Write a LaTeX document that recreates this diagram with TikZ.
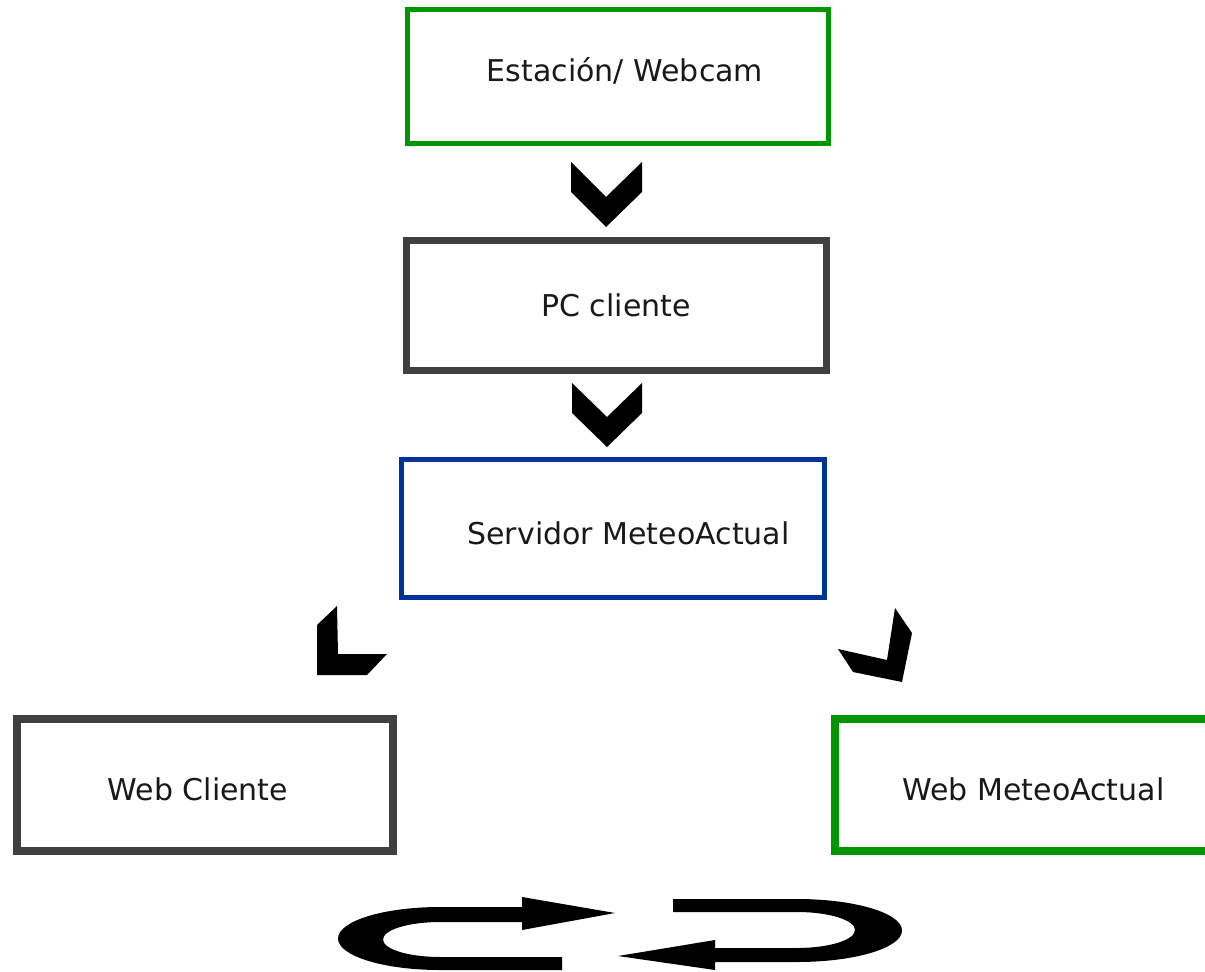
\documentclass[tikz,border=0pt]{standalone}
\usepackage{fontspec}
\setmainfont{DejaVu Sans}
\definecolor{boxgreen}{RGB}{0,150,0}
\definecolor{boxgray}{RGB}{64,64,64}
\definecolor{boxblue}{RGB}{0,51,153}
\begin{document}
\begin{tikzpicture}[x=1pt,y=-1pt,
  box/.style={draw, rectangle, inner sep=0pt, fill=white},
  lbl/.style={anchor=base, inner sep=0pt, font=\fontsize{30}{36}\selectfont, text=black!90},
  chev/.style={fill=black, draw=none}]
\useasboundingbox (0,0) rectangle (1205,972);
\fill[white] (0,0) rectangle (1205,972);

% boxes
\node[box, draw=boxgreen, line width=5pt, minimum width=420.5pt, minimum height=133.5pt] (est) at (617.75,76.25) {};
\node[box, draw=boxgray, line width=7pt, minimum width=420pt, minimum height=130pt] (pc) at (616.5,305.5) {};
\node[box, draw=boxblue, line width=5pt, minimum width=423pt, minimum height=138pt] (srv) at (613,528.5) {};
\node[box, draw=boxgray, line width=8pt, minimum width=376pt, minimum height=132pt] (wcl) at (205,785) {};
\node[box, draw=boxgreen, line width=7.5pt, minimum width=380pt, minimum height=132pt] (wma) at (1025,785) {};

% labels
\node[lbl] (test) at (625,81) {Estación/ Webcam};
\node[lbl] (tpc) at (616,316) {PC cliente};
\node[lbl] (tsrv) at (628.5,544) {Servidor MeteoActual};
\node[lbl] (twcl) at (198,800) {Web Cliente};
\node[lbl] (twma) at (1033.5,800) {Web MeteoActual};

% chevron connectors
\fill[chev] (571,162) -- (571,192) -- (606,227) -- (642,192) -- (642,162) -- (606,197) -- cycle;
\fill[chev] (572,383) -- (572,413) -- (607,447) -- (642,413) -- (642,383) -- (607,417) -- cycle;
\fill[chev] (337,606) -- (317,625) -- (317,675) -- (367,675) -- (387,654) -- (338,654) -- cycle;
\fill[chev] (895,608) -- (912,633) -- (902,682) -- (853,672) -- (838,649) -- (887,660) -- cycle;

% cycle arrows
\fill[black] (522,907) -- (440,907)
  .. controls (383.7,907) and (338,921.1) .. (338,938.5)
  .. controls (338,955.9) and (383.7,970) .. (440,970)
  -- (562,970) -- (562,957) -- (440,957)
  .. controls (408.5,957) and (383,949.2) .. (383,939.5)
  .. controls (383,929.8) and (408.5,922) .. (440,922)
  -- (522,922) -- (522,930) -- (615,913) -- (522,897) -- cycle;
\fill[black] (673,899) -- (797,899)
  .. controls (855,899) and (902,913.1) .. (902,930.5)
  .. controls (902,947.9) and (855,962) .. (797,962)
  -- (715,962) -- (715,970) -- (618,956) -- (715,940) -- (715,948) -- (797,948)
  .. controls (829,948) and (855,940) .. (855,930)
  .. controls (855,920) and (829,912) .. (797,912)
  -- (673,912) -- cycle;
\end{tikzpicture}
\end{document}
